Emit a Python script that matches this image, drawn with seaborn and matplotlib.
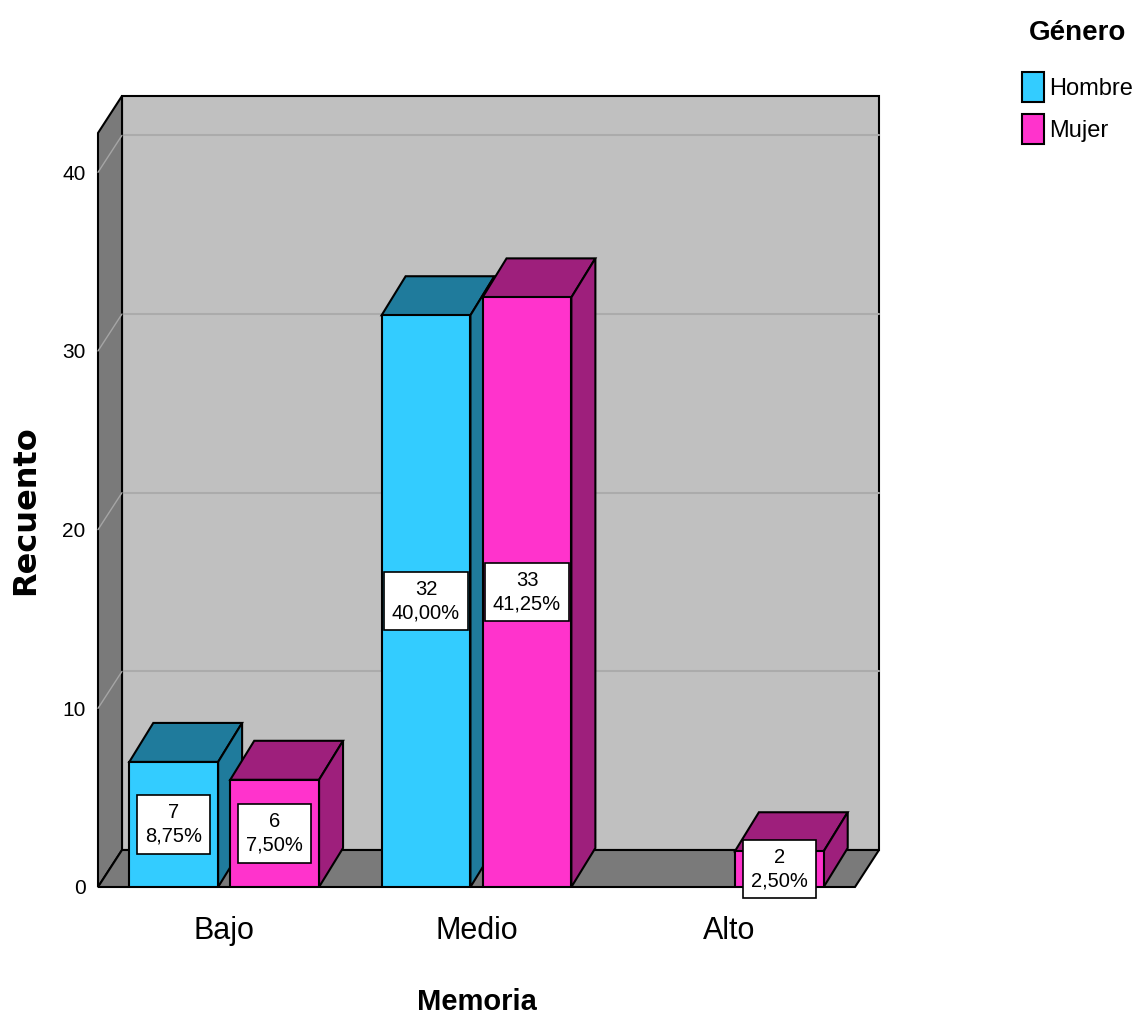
import numpy as np
import pandas as pd
import matplotlib
matplotlib.use('Agg')
import matplotlib.pyplot as plt
import seaborn as sns
from matplotlib.patches import Polygon, Patch

# datos
categorias = ['Bajo', 'Medio', 'Alto']
generos = ['Hombre', 'Mujer']
hombre = [7, 32, 0]
mujer = [6, 33, 2]
total = 80

colores = {'Hombre': '#33CCFF', 'Mujer': '#FF33CC'}
colores_3d = {'Hombre': '#1F7B9C', 'Mujer': '#9E1F7C'}

df = pd.DataFrame({
    'Memoria': categorias * 2,
    'Recuento': hombre + mujer,
    'Género': ['Hombre'] * 3 + ['Mujer'] * 3,
})

sns.set_style('white')
plt.rcParams['font.family'] = ['Liberation Sans', 'DejaVu Sans']
plt.rcParams['text.color'] = 'black'
plt.rcParams['axes.labelcolor'] = 'black'
plt.rcParams['xtick.color'] = 'black'
plt.rcParams['ytick.color'] = 'black'

fig = plt.figure(figsize=(11.34, 10.18), dpi=100)
ax = fig.add_axes([98 / 1134, 131 / 1018, 757 / 1134, 754 / 1018])
ax.set_facecolor('none')

sns.barplot(data=df, x='Memoria', y='Recuento', hue='Género', order=categorias,
            hue_order=generos, palette=colores, saturation=1, width=0.8, gap=0.12,
            edgecolor='black', linewidth=1.5, legend=False, ax=ax)

x0, x1, ytop = -0.5, 2.5, 42.2
ax.set_xlim(x0, x1)
ax.set_ylim(0, ytop)

# profundidad en pixeles -> unidades de datos
inv = ax.transData.inverted()
p0 = ax.transData.transform((0, 0))
dx, dy = inv.transform(p0 + np.array([24, 37])) - inv.transform(p0)
dxb, dyb = inv.transform(p0 + np.array([24, 39])) - inv.transform(p0)

# paredes
ax.add_patch(Polygon([(x0 + dx, dy), (x1 + dx, dy), (x1 + dx, ytop + dy), (x0 + dx, ytop + dy)],
                     fc='#C0C0C0', ec='black', lw=1.5, clip_on=False, zorder=0.1))
ax.add_patch(Polygon([(x0, 0), (x0 + dx, dy), (x0 + dx, ytop + dy), (x0, ytop)],
                     fc='#7A7A7A', ec='black', lw=1.5, clip_on=False, zorder=0.3))
ax.add_patch(Polygon([(x0, 0), (x1, 0), (x1 + dx, dy), (x0 + dx, dy)],
                     fc='#7A7A7A', ec='black', lw=1.5, clip_on=False, zorder=0.3))
for v in [10, 20, 30, 40]:
    ax.plot([x0 + dx, x1 + dx], [v + dy, v + dy], color='#ABABAB', lw=1.5, zorder=0.2, clip_on=False)
    ax.plot([x0, x0 + dx], [v, v + dy], color='#A5A5A5', lw=1, zorder=0.4, clip_on=False)

# barras 3d
barras = sorted(list(ax.patches)[:6], key=lambda p: p.get_x())
for i, p in enumerate(barras):
    x, w, h = p.get_x(), p.get_width(), p.get_height()
    cx = x + w / 2
    genero = 'Hombre' if cx < round(cx) else 'Mujer'
    if h == 0:
        p.set_visible(False)
        continue
    z = 2 + i * 0.1
    p.set_zorder(z + 0.05)
    ax.add_patch(Polygon([(x, h), (x + w, h), (x + w + dxb, h + dyb), (x + dxb, h + dyb)],
                         fc=colores_3d[genero], ec='black', lw=1.5, zorder=z, clip_on=False))
    ax.add_patch(Polygon([(x + w, 0), (x + w + dxb, dyb), (x + w + dxb, h + dyb), (x + w, h)],
                         fc=colores_3d[genero], ec='black', lw=1.5, zorder=z, clip_on=False))
    pct = f'{h / total * 100:.2f}'.replace('.', ',') + '%'
    ax.text(cx, h / 2, f'{int(h)}\n{pct}', ha='center', va='center', fontsize=14.5,
            linespacing=1.3, zorder=10,
            bbox=dict(boxstyle='square,pad=0.4', fc='white', ec='black', lw=1.2))

sns.despine(ax=ax, left=True, bottom=True)
ax.set_yticks([0, 10, 20, 30, 40])
ax.tick_params(axis='y', length=0, pad=9, labelsize=15)
ax.tick_params(axis='x', length=0, pad=21, labelsize=22)

ax.set_ylabel('Recuento', fontsize=23, fontweight='bold', family='DejaVu Sans')
ax.yaxis.set_label_coords(-0.095, 0.5)
ax.yaxis.label.set_va('center')
ax.set_xlabel('Memoria', fontsize=21, fontweight='bold')
ax.xaxis.set_label_coords(0.5, -0.152)
ax.xaxis.label.set_va('center')

# leyenda
fig.text(1078 / 1134, 1 - 33 / 1018, 'Género', ha='center', va='center',
         fontsize=20, fontweight='bold')
handles = [Patch(fc=colores[g], ec='black', lw=1.5, label=g) for g in generos]
fig.legend(handles=handles, loc='upper left',
           bbox_to_anchor=(1022 / 1134, 1 - 72 / 1018), frameon=False, fontsize=17,
           handlelength=0.95, handleheight=1.6, handletextpad=0.2, labelspacing=0.5,
           borderpad=0, borderaxespad=0)

fig.savefig('out.png', dpi=100, facecolor='white')
